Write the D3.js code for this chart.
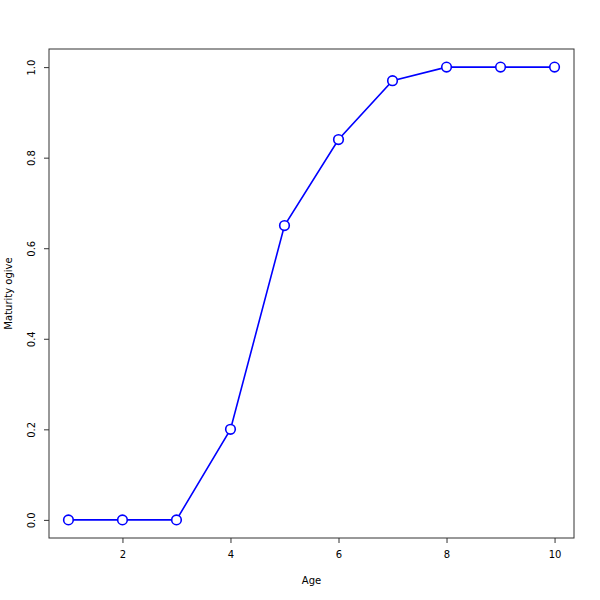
<!DOCTYPE html>
<html><head><meta charset="utf-8">
<script src="https://cdn.jsdelivr.net/npm/d3@7"></script>
<style>body{margin:0;background:#fff}svg{display:block}</style>
</head><body>
<svg id="c" width="600" height="600"></svg>
<script>
const ages = [1,2,3,4,5,6,7,8,9,10];
const maturity = [0,0,0,0.2,0.65,0.84,0.97,1,1,1];
const xTicks = [2,4,6,8,10];
const yTicks = [0,0.2,0.4,0.6,0.8,1.0];

const svg = d3.select("#c");
const L=49,R=574,T=49,B=538;
const x = d3.scaleLinear().domain([0.64,10.36]).range([L,R]);
const y = d3.scaleLinear().domain([-0.04,1.04]).range([B,T]);
const font = "DejaVu Sans, Arial, sans-serif";
const fs = 10;

svg.append("rect").attr("x",L).attr("y",T).attr("width",R-L).attr("height",B-T)
  .attr("fill","none").attr("stroke","#333").attr("stroke-width",1);

const xa = svg.append("g").attr("transform",`translate(0,${B})`)
  .call(d3.axisBottom(x).tickValues(xTicks).tickSize(5).tickPadding(8).tickFormat(d3.format("d")));
xa.select(".domain").remove();
xa.selectAll("text").attr("font-family",font).attr("font-size",fs).attr("fill","#000");
xa.selectAll("line").attr("stroke","#333");

const ya = svg.append("g").attr("transform",`translate(${L},0)`)
  .call(d3.axisLeft(y).tickValues(yTicks).tickSize(5).tickFormat(d3.format(".1f")));
ya.select(".domain").remove();
ya.selectAll("line").attr("stroke","#333");
ya.selectAll("text").attr("font-family",font).attr("font-size",fs).attr("fill","#000")
  .attr("text-anchor","middle").attr("x",0).attr("dy",0)
  .attr("transform","translate(-14,0) rotate(-90)");

svg.append("text").attr("x",(L+R)/2).attr("y",584).attr("text-anchor","middle")
  .attr("font-family",font).attr("font-size",fs).text("Age");
svg.append("text").attr("transform",`translate(12,${(T+B)/2}) rotate(-90)`).attr("text-anchor","middle")
  .attr("font-family",font).attr("font-size",fs).text("Maturity ogive");

const pts = ages.map((a,i)=>[a,maturity[i]]);
svg.append("path").datum(pts).attr("fill","none").attr("stroke","#0000ff").attr("stroke-width",1.6)
  .attr("d",d3.line().x(d=>x(d[0])).y(d=>y(d[1])));
svg.selectAll("circle.p").data(pts).enter().append("circle")
  .attr("cx",d=>x(d[0])).attr("cy",d=>y(d[1])).attr("r",4.8)
  .attr("fill","#fff").attr("stroke","#0000ff").attr("stroke-width",1.6);
</script>
</body></html>
